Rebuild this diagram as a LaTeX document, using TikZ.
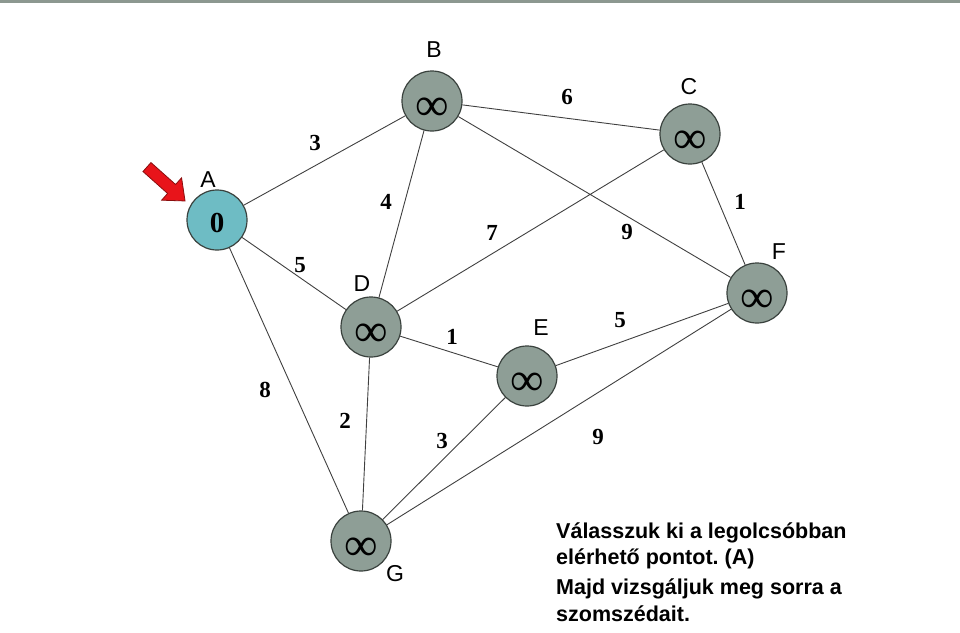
\documentclass[tikz,border=0pt]{standalone}
\usepackage{fontspec}
\setmainfont{Liberation Serif}
\setsansfont{Liberation Sans}
\definecolor{vertexgray}{HTML}{8E9E96}
\definecolor{startteal}{HTML}{6EBCC4}
\definecolor{rimgray}{HTML}{3A423E}
\definecolor{topbar}{HTML}{8C9890}
\definecolor{arrowred}{HTML}{E8141A}
\definecolor{arrowrim}{HTML}{8A0E0E}
\newcommand{\unreached}{\raisebox{-19pt}[0pt][0pt]{∞}}
\tikzset{
  vertex/.style={circle, draw=rimgray, line width=1.2pt, fill=vertexgray,
    minimum size=60pt, inner sep=0pt, font=\fontsize{47}{47}\selectfont},
  weight/.style={font=\bfseries\fontsize{23}{23}\selectfont},
  letter/.style={font=\sffamily\fontsize{23}{23}\selectfont},
  link/.style={draw=black!75, line width=0.9pt}
}
\begin{document}
\begin{tikzpicture}[x=1pt, y=-1pt]
\useasboundingbox (0,0) rectangle (960,632);
\fill[topbar] (0,0) rectangle (960,3);

\node[vertex, fill=startteal] (A) at (217,220) {\fontsize{29}{29}\selectfont\bfseries\raisebox{-12.5pt}[0pt][0pt]{0}};
\node[vertex] (B) at (432,101) {\unreached};
\node[vertex] (C) at (690,134) {\unreached};
\node[vertex] (D) at (371,327) {\unreached};
\node[vertex] (E) at (527,376) {\unreached};
\node[vertex] (F) at (757,293) {\unreached};
\node[vertex] (G) at (361,541) {\unreached};

\draw[link] (A) -- (B) (A) -- (D) (A) -- (G)
  (B) -- (C) (B) -- (D) (B) -- (F)
  (C) -- (D) (C) -- (F)
  (D) -- (E) (D) -- (G)
  (E) -- (F) (E) -- (G)
  (G) -- (F);

\node[letter] (la) at (208,180) {A};
\node[letter] (lb) at (434,50) {B};
\node[letter] (lc) at (689,87) {C};
\node[letter] (ld) at (362,284) {D};
\node[letter] (le) at (541,328) {E};
\node[letter] (lf) at (779,252) {F};
\node[letter] (lg) at (395,574) {G};

\node[weight] (wab) at (315,143) {3};
\node[weight] (wbd) at (386,202) {4};
\node[weight] (wbc) at (567,97) {6};
\node[weight] (wcd) at (492,233) {7};
\node[weight] (wbf) at (627,232) {9};
\node[weight] (wcf) at (740,202) {1};
\node[weight] (wad) at (300,265) {5};
\node[weight] (wde) at (452,337) {1};
\node[weight] (wef) at (620,320) {5};
\node[weight] (wag) at (265,390) {8};
\node[weight] (wdg) at (345,421) {2};
\node[weight] (weg) at (442,441) {3};
\node[weight] (wgf) at (598,437) {9};

\filldraw[fill=arrowred, draw=arrowrim, line width=0.8pt, shift={(166,184)}, rotate=-41.7]
  (-25.5,-6) -- (7.5,-6) -- (7.5,-15) -- (25.5,0) -- (7.5,15) -- (7.5,6) -- (-25.5,6) -- cycle;

\node[anchor=base west, inner sep=0pt, align=left,
  font=\sffamily\bfseries\fontsize{21.5}{26.3}\selectfont] (note) at (556,621)
  {Válasszuk ki a legolcsóbban\\elérhető pontot.\ (A)\\[4pt]Majd vizsgáljuk meg sorra a\\szomszédait.};
\end{tikzpicture}
\end{document}
